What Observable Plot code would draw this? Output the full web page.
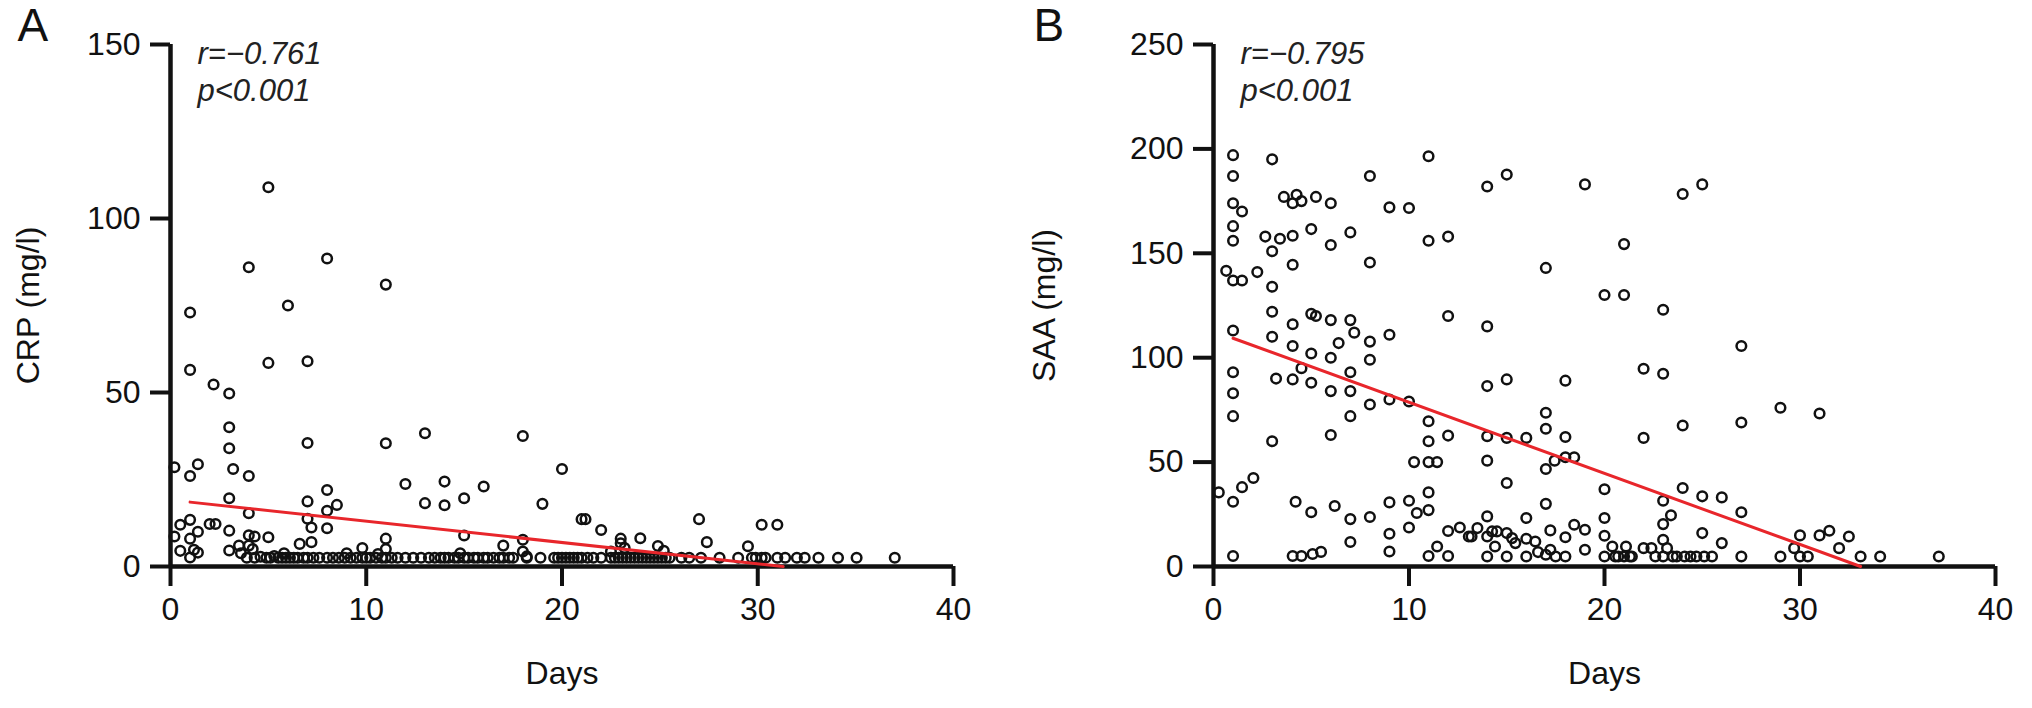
<!DOCTYPE html>
<html>
<head>
<meta charset="utf-8">
<script src="https://cdn.jsdelivr.net/npm/d3@7"></script>
<script src="https://cdn.jsdelivr.net/npm/@observablehq/plot@0.6"></script>
<style>
  body { margin: 0; background: white; }
  #charts { display: flex; width: 2032px; height: 708px; }
</style>
</head>
<body>
<div id="charts"></div>
<script>
// dias vs CRP / SAA
const xTicks = [0, 10, 20, 30, 40]
const crpTicks = [0, 50, 100, 150]
const saaTicks = [0, 50, 100, 150, 200, 250]

// CRP: puntos sueltos [dia, mg/l]
const crpPoints = [
  [5,109],[4,86],[8,88.5],[11,81],[6,75],[1,73],[1,56.5],[5,58.5],[7,59],[2.2,52.3],
  [3,49.7],[3,40],[3,34],[7,35.5],[11,35.4],[13,38.3],[18,37.5],[20,28],[0.2,28.5],[1.4,29.4],
  [1,26],[3.2,28],[4,26],[12,23.7],[14,24.4],[16,23],[13,18.2],[14,17.6],[15,19.6],[19,18],
  [3,19.6],[4,15.3],[7,18.7],[8,22],[8,16],[8.5,17.7],[7,13.7],[7.2,11.2],[8,11],[0.5,12],
  [1,13.4],[1.4,10],[2,12.2],[2.3,12.2],[3,10.3],[0.2,8.6],[1,8],[0.5,4.5],[1,2.6],[1.2,4.8],
  [1.4,4],[3,4.6],[3.5,6],[3.6,3.8],[4,9],[4.3,8.6],[4,6],[4.2,5],[5,8.4],[6.6,6.5],
  [7.2,7],[11,8],[9.8,5.3],[11,5],[21,13.6],[21.2,13.6],[22,10.5],[23,8],[23,6.7],[23.2,5.3],
  [24,8.1],[27,13.6],[27.4,7],[30.2,12],[31,12],[29.5,5.8],[15,8.9],[17,6],[18,7.7],[14.8,3.8],
  [18,4.3],[18.2,2.9],[24.9,5.9],[25.2,4.5],[22.5,4.3],[5.8,3.8],[9,3.8],[10.6,3.6]
]
// CRP: fila de abajo (limite de deteccion)
const crpFloor = [
  [3.9,2.5],[4.3,2.5],[4.6,2.8],[4.9,2.5],[5.1,2.5],[5.3,3],[5.5,2.5],[5.7,2.5],[5.9,2.5],[6.1,2.5],
  [6.3,2.5],[6.5,2.5],[6.8,2.5],[7,2.5],[7.3,2.5],[7.6,2.5],[8,2.5],[8.3,2.5],[8.6,2.5],[8.9,2.5],
  [9.2,2.5],[9.5,2.5],[9.8,2.5],[10,2.5],[10.2,2.5],[10.5,2.5],[10.8,2.5],[11,2.5],[11.3,2.5],[11.6,2.5],
  [12,2.5],[12.4,2.5],[12.8,2.5],[13.2,2.5],[13.5,2.5],[13.8,2.5],[14,2.5],[14.2,2.5],[14.5,2.5],[14.7,2.5],
  [15,2.5],[15.2,2.5],[15.5,2.5],[15.7,2.5],[16,2.5],[16.2,2.5],[16.5,2.5],[16.8,2.5],[17,2.5],[17.3,2.5],
  [17.5,2.5],[18.2,2.5],[18.9,2.5],[19.6,2.5],[19.8,2.5],[20,2.5],[20.2,2.5],[20.4,2.5],[20.6,2.5],[20.8,2.5],
  [21,2.5],[21.3,2.5],[21.6,2.5],[22,2.5],[22.5,2.5],[22.7,2.5],[22.9,2.5],[23.1,2.5],[23.3,2.5],[23.5,2.5],
  [23.7,2.5],[23.9,2.5],[24.1,2.5],[24.3,2.5],[24.5,2.5],[24.7,2.5],[24.9,2.5],[25.1,2.5],[25.3,2.5],[25.5,2.5],
  [26.1,2.5],[26.5,2.5],[27.1,2.5],[28.05,2.5],[29,2.5],[29.7,2.5],[29.9,2.5],[30.2,2.5],[30.4,2.5],[31,2.5],
  [31.4,2.5],[32,2.5],[32.4,2.5],[33.1,2.5],[34.1,2.5],[35.05,2.5],[37,2.5]
]
const crpFit = [[1, 18.5], [31.3, 0]]

// SAA [dia, mg/l]
const saaPoints = [
  [1,197],[1,187],[1,174],[1,163],[1,156],[1,137],[1,113],[1,93],[1,83],[1,72],[1,31],[1,5],
  [1.46,170],[1.46,137],[0.65,141.6],[0.27,35.5],[1.46,38],[2.04,42.4],[2.24,141],[2.65,158],
  [3,195],[3,151],[3,134],[3,122],[3,110],[3,60],[3.2,90],[3.4,157],
  [3.6,177],[4.05,174],[4.25,178],[4.5,175],
  [4.05,158.4],[4.05,144.5],[4.05,116],[4.05,105.6],[4.05,89.6],[4.5,95],[4.2,31],
  [4.05,5],[4.5,5],[5.07,6],[5.5,7],
  [5,161.6],[5,121],[5.24,120],[5,102],[5,88],[5,26],[5.24,177],
  [6,174],[6,154],[6,118],[6,100],[6,84],[6,63],[6.2,29],[6.4,107],
  [7,160],[7,118],[7.2,112],[7,93],[7,84],[7,72],[7,22.7],[7,11.7],
  [8,187],[8,145.6],[8,107.7],[8,99],[8,77.6],[8,23.7],
  [9,172],[9,111],[9,80],[9,30.7],[9,15.7],[9,7.2],
  [10,171.7],[10,79],[10,31.5],[10,18.7],[10.26,50],[10.4,25.6],
  [11,196.5],[11,156],[11,69.6],[11,60],[11,50],[11.44,50],[11,35.5],[11,27],[11,5],[11.44,9.6],
  [12,158],[12,120],[12,62.7],[12,17],[12,5],
  [12.6,18.7],[13.06,14.4],[13.2,14.4],[13.5,18.4],
  [14,182],[14,115],[14,86.4],[14,62.4],[14,50.7],[14,24],[14,14.4],[14,4.8],[14.25,16.8],[14.5,16.8],[14.4,9.6],
  [15,187.7],[15,89.6],[15,61.6],[15,40],[15,16],[15.27,13.6],[15.44,11.2],[15,4.8],
  [16,61.6],[16,23.2],[16,13.3],[16,4.8],[16.46,12],[16.6,6.9],
  [17,143],[17,73.6],[17,66],[17,46.7],[17,30],[17,5.6],[17.23,17.3],[17.23,8],[17.45,50.7],[17.5,4.8],
  [18,89],[18,62],[18,52.3],[18.45,52.3],[18,14],[18,4.8],[18.45,20],
  [19,183],[19,17.6],[19,8],
  [20,130],[20,37],[20,23.2],[20,14.7],[20,4.8],[20.4,9.6],[20.55,4.8],
  [24,178.4],[25,183],[21,154.4],[21,130],[23,123],[27,105.6],[22,94.7],[23,92.3],[29,76],[31,73.3],
  [24,67.5],[27,69],[22,61.6],[24,37.6],[25,33.6],[26,33.1],[27,26],[23,31.5],[23.4,24.5],[23,20.3],
  [23,12.8],[25,16],[26,11.2],[30,14.9],[31,14.9],[31.5,17.1],[32.5,14.4],[32,8.8],[29.7,8.8],[21.1,9.6],
  [22,8.8],[22.4,8.8],[23.2,8.8],
  [20.7,4.8],[21,4.8],[21.3,4.8],[21.4,4.8],[22.6,4.8],[23,4.8],[23.5,4.8],[23.7,4.8],[24.1,4.8],[24.4,4.8],
  [24.7,4.8],[25.1,4.8],[25.5,4.8],[27,4.8],[29,4.8],[30,4.8],[30.4,4.8],[33.1,4.8],[34.1,4.8],[37.1,4.8]
]
const saaFit = [[1, 109.3], [33.1, 0]]

const font = "'Liberation Sans', Arial, Helvetica, sans-serif"

function panel({letter, points, fit, yTicks, yLabel, stats, marginLeft, marginRight}) {
  return Plot.plot({
    width: 1016,
    height: 708,
    marginLeft,
    marginRight,
    marginTop: 44,
    marginBottom: 142,
    x: {domain: [0, 40]},
    y: {domain: [0, yTicks[yTicks.length - 1]]},
    style: {fontFamily: font, fontSize: "32px", color: "#111", background: "white", overflow: "visible"},
    marks: [
      Plot.axisX({ticks: xTicks, tickSize: 20, tickPadding: 11, strokeWidth: 4, label: null, fontSize: 32}),
      Plot.axisY({ticks: yTicks, tickSize: 20, tickPadding: 10, strokeWidth: 4, label: null, fontSize: 32}),
      Plot.ruleX([0], {strokeWidth: 4.5}),
      Plot.ruleY([0], {strokeWidth: 4.5}),
      Plot.dot(points, {x: d => d[0], y: d => d[1], r: 4.8, stroke: "#111", strokeWidth: 2.5, fill: "none"}),
      Plot.line(fit, {x: d => d[0], y: d => d[1], stroke: "#e8262b", strokeWidth: 3}),
      Plot.text([stats], {frameAnchor: "top-left", textAnchor: "start", lineAnchor: "top", dx: 27, dy: -7,
        fontStyle: "italic", fontSize: 31, lineHeight: 1.2, fill: "#222"}),
      Plot.text([yLabel], {frameAnchor: "left", textAnchor: "middle", lineAnchor: "middle", rotate: -90,
        dx: -(marginLeft - 28), fontSize: 32}),
      Plot.text(["Days"], {frameAnchor: "bottom", textAnchor: "middle", lineAnchor: "middle", dy: 107, fontSize: 32}),
      Plot.text([letter], {frameAnchor: "top-left", textAnchor: "start", lineAnchor: "top", dx: -(marginLeft - 17), dy: -36, fontSize: 46})
    ]
  })
}

const chartA = panel({
  letter: "A",
  points: crpPoints.concat(crpFloor),
  fit: crpFit,
  yTicks: crpTicks,
  yLabel: "CRP (mg/l)",
  stats: "r=\u22120.761\np<0.001",
  marginLeft: 170,
  marginRight: 63
})

const chartB = panel({
  letter: "B",
  points: saaPoints,
  fit: saaFit,
  yTicks: saaTicks,
  yLabel: "SAA (mg/l)",
  stats: "r=\u22120.795\np<0.001",
  marginLeft: 197,
  marginRight: 37
})

d3.select('#charts').append(() => chartA)
d3.select('#charts').append(() => chartB)
</script>
</body>
</html>
